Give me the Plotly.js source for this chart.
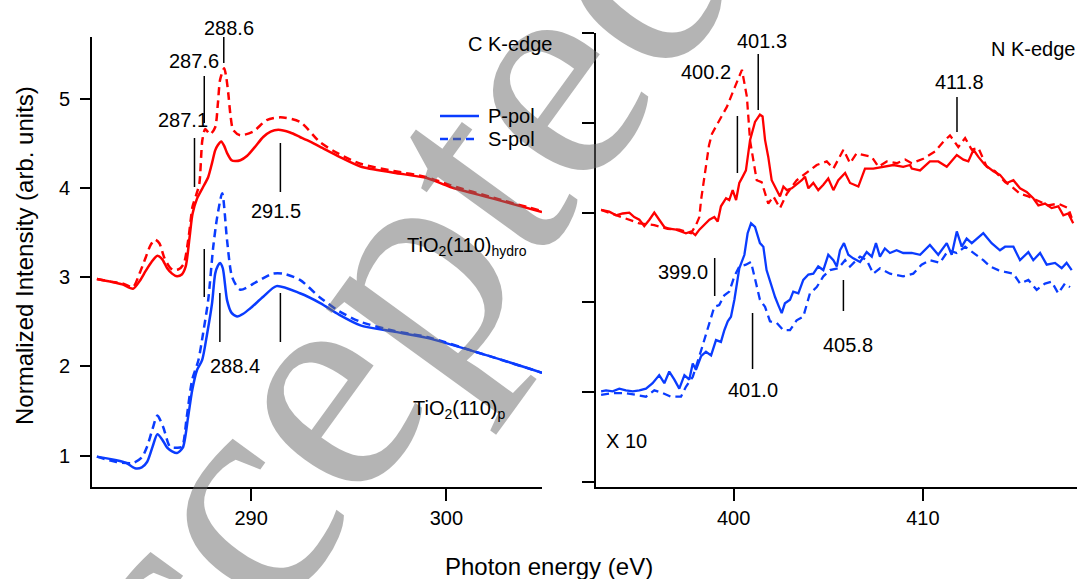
<!DOCTYPE html>
<html><head><meta charset="utf-8">
<script src="https://cdn.plot.ly/plotly-3.0.1.min.js"></script>
<style>html,body{margin:0;padding:0;background:#fff}#chart{width:1077px;height:579px}</style>
</head><body><div id="chart"></div>
<script>
// ---------- C K-edge (left panel) ----------
const cHydroP_x = [282.1,282.8,283.4,283.95,284.3,284.6,284.9,285.2,285.45,285.7,285.95,286.2,286.45,286.65,286.85,287.0,287.23,287.54,287.8,288.0,288.16,288.3,288.47,288.62,288.77,289.0,289.18,289.45,289.8,290.2,290.62,291.0,291.39,292.0,292.5,293.0,293.54,294.5,295.6,297.3,299.0,300.2,302.4,304.9];
const cHydroP_y = [2.98,2.95,2.92,2.87,2.96,3.07,3.17,3.24,3.2,3.1,3.04,3.01,3.03,3.12,3.45,3.71,3.88,4.01,4.12,4.28,4.42,4.48,4.52,4.47,4.39,4.31,4.30,4.31,4.36,4.46,4.57,4.63,4.65,4.62,4.57,4.52,4.46,4.35,4.24,4.17,4.11,4.01,3.88,3.73];
const cHydroS_x = [282.1,282.8,283.4,283.95,284.3,284.6,284.85,285.08,285.3,285.55,285.8,286.0,286.3,286.55,286.8,287.0,287.2,287.35,287.5,287.65,287.9,288.16,288.3,288.41,288.62,288.72,288.83,288.95,289.08,289.44,290.1,290.8,291.5,292.5,293.54,294.5,295.6,297.3,299.0,300.2,302.4,304.9];
const cHydroS_y = [2.98,2.95,2.93,2.89,3.05,3.22,3.36,3.42,3.38,3.22,3.12,3.08,3.09,3.15,3.45,3.79,3.93,4.05,4.53,4.66,4.60,4.68,4.95,5.21,5.34,5.25,5.06,4.8,4.65,4.59,4.63,4.76,4.79,4.74,4.51,4.38,4.27,4.19,4.12,4.03,3.89,3.74];
const cPristP_x = [282.1,283.1,283.6,284.05,284.4,284.67,284.95,285.2,285.45,285.7,285.95,286.2,286.5,286.77,286.98,287.23,287.49,287.75,288.0,288.16,288.3,288.41,288.55,288.77,289.0,289.28,289.6,289.95,290.62,291.3,292.5,293.54,294.5,295.6,297.3,299.0,302.0,304.9];
const cPristP_y = [0.99,0.95,0.92,0.86,0.87,0.93,1.1,1.24,1.18,1.09,1.05,1.03,1.09,1.43,1.73,1.96,2.07,2.37,2.71,3.04,3.13,3.16,3.1,2.74,2.6,2.56,2.59,2.65,2.78,2.90,2.82,2.71,2.58,2.46,2.39,2.32,2.13,1.93];
const cPristS_x = [282.1,283.1,283.95,284.4,284.67,284.95,285.2,285.5,285.85,286.2,286.46,286.7,286.98,287.3,287.54,287.8,288.06,288.26,288.52,288.77,289.03,289.44,290.3,291.1,291.65,292.5,293.54,294.5,295.6,297.3,299.0,302.0,304.9];
const cPristS_y = [0.99,0.93,0.92,0.98,1.10,1.3,1.45,1.32,1.10,1.09,1.10,1.43,1.85,2.07,2.37,2.74,3.34,3.67,3.94,3.41,3.0,2.86,2.95,3.04,3.04,2.97,2.77,2.62,2.50,2.40,2.33,2.13,1.93];

// ---------- N K-edge (right panel, x10) ----------
const nHydroP_x = [393.0,393.43,393.79,394.14,394.49,394.75,395.02,395.28,395.55,395.81,396.07,396.34,396.6,396.96,397.22,397.48,397.75,397.98,398.19,398.45,398.72,398.98,399.16,399.33,399.6,399.77,399.95,400.13,400.3,400.48,400.65,400.87,401.13,401.39,401.53,401.66,401.83,402.01,402.28,402.45,402.63,402.81,403.07,403.33,403.6,403.77,403.95,404.21,404.47,404.74,405.0,405.27,405.53,405.89,406.15,406.59,406.94,407.38,407.91,408.44,408.96,409.32,409.41,409.85,410.37,410.81,411.26,411.79,412.14,412.4,412.67,412.93,413.28,413.72,414.07,414.43,414.78,415.13,415.48,415.83,416.1,416.45,416.8,417.15,417.42,417.68,417.94];
const nHydroP_y = [3.03,3.01,2.97,2.99,3.0,2.95,2.92,2.85,2.92,3.0,2.92,2.84,2.82,2.81,2.79,2.77,2.79,2.75,2.81,2.86,2.92,2.95,2.9,3.07,3.16,3.14,3.25,3.14,3.33,3.40,3.47,3.81,4.01,4.09,4.07,3.81,3.62,3.36,3.25,3.18,3.29,3.25,3.27,3.31,3.36,3.40,3.27,3.33,3.25,3.31,3.38,3.25,3.36,3.44,3.33,3.29,3.49,3.49,3.51,3.53,3.51,3.53,3.49,3.47,3.57,3.57,3.51,3.64,3.59,3.57,3.70,3.62,3.53,3.46,3.42,3.33,3.36,3.27,3.23,3.16,3.08,3.10,3.05,3.07,2.97,2.99,2.88];
const nHydroS_x = [393.0,393.79,395.02,395.81,396.51,397.13,397.75,398.01,398.19,398.28,398.45,398.7,398.86,399.1,399.65,400.07,400.44,400.7,400.87,401.22,401.48,401.83,402.1,402.45,402.81,403.33,403.86,404.39,404.92,405.27,405.8,406.15,406.5,406.94,407.3,407.65,408.09,408.62,409.06,409.41,410.02,410.64,411.08,411.43,411.87,412.23,412.58,412.93,413.37,413.81,414.34,414.69,415.13,415.57,416.01,416.62,417.15,417.68,417.86];
const nHydroS_y = [3.03,2.97,2.88,2.86,2.82,2.81,2.77,2.86,2.95,3.14,3.4,3.75,3.88,3.97,4.18,4.40,4.59,4.29,3.8,3.36,3.34,3.10,3.18,3.05,3.21,3.36,3.44,3.53,3.57,3.49,3.70,3.55,3.66,3.64,3.62,3.51,3.57,3.55,3.59,3.55,3.6,3.68,3.79,3.86,3.73,3.83,3.70,3.72,3.51,3.46,3.34,3.29,3.21,3.18,3.14,3.08,3.10,3.05,2.94];
const nPristP_x = [393.0,393.26,393.61,393.96,394.31,394.67,395.02,395.37,395.72,396.07,396.34,396.6,396.87,397.13,397.4,397.66,397.84,398.01,398.28,398.54,398.81,399.07,399.33,399.51,399.69,399.86,400.04,400.22,400.3,400.57,400.74,400.92,401.13,401.39,401.57,401.74,401.92,402.19,402.36,402.54,402.71,402.98,403.15,403.42,403.68,403.95,404.21,404.47,404.74,405.0,405.27,405.45,405.62,405.83,406.06,406.32,406.68,407.03,407.3,407.52,407.73,407.99,408.26,408.61,408.96,409.41,409.85,410.37,410.81,411.26,411.52,411.79,412.05,412.31,412.58,413.19,413.63,414.07,414.34,414.78,415.13,415.57,415.83,416.19,416.54,416.98,417.33,417.59,417.86];
const nPristP_y = [1.01,1.02,1.01,1.04,1.02,1.01,1.02,1.04,1.10,1.19,1.10,1.23,1.14,1.04,1.19,1.14,1.32,1.25,1.40,1.45,1.41,1.58,1.56,1.69,1.79,1.84,2.03,2.25,2.38,2.53,2.77,2.88,2.84,2.66,2.62,2.36,2.23,2.06,1.97,1.88,1.99,2.03,2.12,2.10,2.25,2.31,2.32,2.40,2.36,2.53,2.47,2.40,2.58,2.66,2.53,2.49,2.45,2.56,2.51,2.66,2.51,2.60,2.55,2.58,2.55,2.55,2.53,2.64,2.53,2.66,2.53,2.79,2.62,2.71,2.66,2.77,2.66,2.58,2.62,2.62,2.47,2.56,2.47,2.55,2.42,2.44,2.38,2.44,2.36];
const nPristS_x = [393.0,393.61,394.31,395.37,395.81,396.25,396.69,397.22,397.48,397.84,398.19,398.45,398.72,398.98,399.24,399.51,399.77,400.04,400.3,400.65,400.92,401.13,401.39,401.66,401.92,402.28,402.63,402.98,403.33,403.68,404.03,404.39,404.74,405.09,405.53,405.89,406.15,406.68,407.03,407.38,407.73,408.26,408.96,409.49,409.93,410.37,410.9,411.34,411.79,412.23,412.67,413.19,413.55,413.98,414.34,414.78,415.13,415.57,416.01,416.45,416.8,417.15,417.5,417.77];
const nPristS_y = [0.97,0.99,0.99,0.95,1.02,0.99,0.95,0.95,1.06,1.17,1.40,1.58,1.77,1.95,1.97,2.08,2.12,2.29,2.40,2.42,2.45,2.25,2.03,1.95,1.79,1.77,1.69,1.69,1.80,1.84,2.10,2.17,2.29,2.36,2.38,2.47,2.40,2.51,2.47,2.32,2.38,2.32,2.29,2.32,2.42,2.47,2.44,2.58,2.55,2.62,2.55,2.47,2.4,2.36,2.34,2.32,2.21,2.25,2.14,2.21,2.23,2.10,2.21,2.17];

// peak markers
const cPeaksHydro = [287.1, 287.6, 288.6, 291.5];
const cPeaksHydroLabels = ["287.1", "287.6", "288.6", "291.5"];
const cPeaksPrist = [287.6, 288.4, 291.5];
const cPeaksPristLabels = ["", "288.4", ""];
const nPeaksHydro = [400.2, 401.3, 411.8];
const nPeaksHydroLabels = ["400.2", "401.3", "411.8"];
const nPeaksPrist = [399.0, 401.0, 405.8];
const nPeaksPristLabels = ["399.0", "401.0", "405.8"];

const xTicksC = [290, 300];
const yTicksC = [1, 2, 3, 4, 5];
const xTicksN = [400, 410];
const yTicksN = [0, 1, 2, 3, 4, 5];

// ---------- styling helpers ----------
const RED = '#ff0000', BLUE = '#0a3cff';
const FONT = 'Liberation Sans, Arial, sans-serif';
const W = 1077, H = 579, ML = 92, MR = 0, MT = 33, MB = 92;
const PW = W - ML - MR, PH = H - MT - MB;
const X = px => (px - ML) / PW;
const Y = py => (H - MB - py) / PH;
const DASH = '8px,5px';

function tr(x, y, color, dashed, xa, ya, smooth) {
  return {x, y, type: 'scatter', mode: 'lines', xaxis: xa, yaxis: ya, showlegend: false, hoverinfo: 'skip',
    line: {color, width: smooth ? 2.5 : 2.3, dash: dashed ? DASH : 'solid', shape: smooth ? 'spline' : 'linear', smoothing: 0.7}};
}
const traces = [
  tr(cHydroS_x, cHydroS_y, RED, true, 'x', 'y', true),
  tr(cHydroP_x, cHydroP_y, RED, false, 'x', 'y', true),
  tr(cPristS_x, cPristS_y, BLUE, true, 'x', 'y', true),
  tr(cPristP_x, cPristP_y, BLUE, false, 'x', 'y', true),
  tr(nHydroS_x, nHydroS_y, RED, true, 'x2', 'y2', false),
  tr(nHydroP_x, nHydroP_y, RED, false, 'x2', 'y2', false),
  tr(nPristS_x, nPristS_y, BLUE, true, 'x2', 'y2', false),
  tr(nPristP_x, nPristP_y, BLUE, false, 'x2', 'y2', false)
];

// marker line pixel extents [top, bottom] and label centres [x px, y px]
const cHydroLinePx = [[138,187],[76,123],[37,63],[143,192]];
const cHydroLabelPx = [[183,120],[194,61],[229,28],[276,211]];
const cPristLinePx = [[249,297],[293,342],[293,342]];
const cPristLabelPx = [[0,0],[235,366],[0,0]];
const nHydroLinePx = [[116,173],[54,110],[97,132]];
const nHydroLabelPx = [[706,72],[762,41],[959,82]];
const nPristLinePx = [[258,296],[313,369],[280,311]];
const nPristLabelPx = [[683,272],[753,390],[848,345]];

const shapes = [], annotations = [];
function addMarkers(vals, labels, linePx, labelPx, xref) {
  vals.forEach((v, i) => {
    shapes.push({type: 'line', xref, yref: 'paper', x0: v, x1: v, y0: Y(linePx[i][1]), y1: Y(linePx[i][0]),
      line: {color: '#000', width: 1.5}});
    if (labels[i]) annotations.push({xref: 'paper', yref: 'paper', x: X(labelPx[i][0]), y: Y(labelPx[i][1]),
      text: labels[i], showarrow: false, xanchor: 'center', yanchor: 'middle', font: {family: FONT, size: 20, color: '#000'}});
  });
}

function txt(text, px, py, size, opts) {
  annotations.push(Object.assign({xref: 'paper', yref: 'paper', x: X(px), y: Y(py), text, showarrow: false,
    xanchor: 'center', yanchor: 'middle', font: {family: FONT, size, color: '#000'}}, opts || {}));
}
// watermark (drawn first so that labels sit above it)
txt('Accepted', 322, 380, 315, {textangle: -54, font: {family: 'Liberation Serif, Times New Roman, serif', size: 315, color: 'rgba(105,105,105,0.5)'}});

addMarkers(cPeaksHydro, cPeaksHydroLabels, cHydroLinePx, cHydroLabelPx, 'x');
addMarkers(cPeaksPrist, cPeaksPristLabels, cPristLinePx, cPristLabelPx, 'x');
addMarkers(nPeaksHydro, nPeaksHydroLabels, nHydroLinePx, nHydroLabelPx, 'x2');
addMarkers(nPeaksPrist, nPeaksPristLabels, nPristLinePx, nPristLabelPx, 'x2');

txt('C K-edge', 510, 44, 20);
txt('N K-edge', 1033, 49, 20);
txt('TiO<sub>2</sub>(110)<sub>hydro</sub>', 467, 246, 20);
txt('TiO<sub>2</sub>(110)<sub>p</sub>', 459, 409, 20);
txt('X 10', 626, 441, 20);
txt('Normalized Intensity (arb. units)', 24, 256, 24, {textangle: -90});
txt('Photon energy (eV)', 549, 566, 24);
// legend
shapes.push({type: 'line', xref: 'paper', yref: 'paper', x0: X(440), x1: X(479), y0: Y(116), y1: Y(116), line: {color: BLUE, width: 2.5}});
shapes.push({type: 'line', xref: 'paper', yref: 'paper', x0: X(440), x1: X(479), y0: Y(139), y1: Y(139), line: {color: BLUE, width: 2.5, dash: DASH}});
txt('P-pol', 486, 116, 20, {xanchor: 'left'});
txt('S-pol', 486, 139, 20, {xanchor: 'left'});

const axBase = {showline: true, linecolor: '#000', linewidth: 2, ticks: 'outside', tickcolor: '#000', tickwidth: 2,
  showgrid: false, zeroline: false, tickfont: {family: FONT, size: 20, color: '#000'}, fixedrange: true};

const layout = {
  width: W, height: H, margin: {l: ML, r: MR, t: MT, b: MB, pad: 0},
  paper_bgcolor: '#fff', plot_bgcolor: '#fff', showlegend: false,
  xaxis: Object.assign({}, axBase, {domain: [0, 450 / PW], range: [281.85, 304.9], tickvals: xTicksC, ticklen: 12, anchor: 'y'}),
  yaxis: Object.assign({}, axBase, {domain: [0, 450 / PH], range: [0.65, 5.69], tickvals: yTicksC, ticklen: 10, anchor: 'x', ticklabelstandoff: 6}),
  xaxis2: Object.assign({}, axBase, {domain: [504 / PW, 1], range: [392.73, 418.14], tickvals: xTicksN, ticklen: 12, anchor: 'y2'}),
  yaxis2: Object.assign({}, axBase, {domain: [0, 1], range: [-0.056, 5.0], tickvals: yTicksN, ticklen: 12, showticklabels: false, anchor: 'x2'}),
  shapes, annotations
};
Plotly.newPlot('chart', traces, layout, {staticPlot: true, displayModeBar: false});
</script></body></html>
